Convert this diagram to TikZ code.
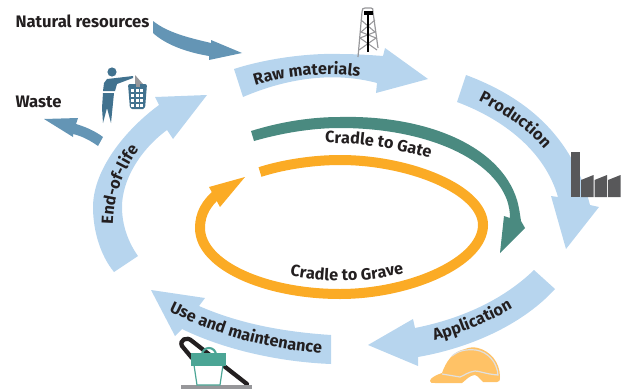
\documentclass[tikz,border=0pt]{standalone}
\usepackage{fontspec}
\setmainfont{Fira Sans}
\usetikzlibrary{decorations.text}

\definecolor{lightblue}{HTML}{B7D5EE}
\definecolor{steelblue}{HTML}{6495B5}
\definecolor{darkteal}{HTML}{4A8A80}
\definecolor{ringorange}{HTML}{FBAB25}
\definecolor{personblue}{HTML}{41728F}
\definecolor{helmetorange}{HTML}{FFC266}
\definecolor{factorygrey}{HTML}{58585A}
\definecolor{floorgrey}{HTML}{97979A}
\definecolor{inkblack}{HTML}{231F20}
\definecolor{bucketgreen}{HTML}{4BA595}

\newcommand{\labelfont}{\fontsize{12.2}{14}\bfseries\color{inkblack}}

\tikzset{
	every picture/.style={line width=0.75pt},
	blockblue/.style={fill=lightblue,draw=none},
	blocksteel/.style={fill=steelblue,draw=none},
	sidelabel/.style={anchor=base west,inner sep=0pt,font=\fontsize{12.5}{15}\bfseries,text=inkblack},
	curvelabel/.style={decorate,decoration={text along path,text={|\labelfont|#1},text align=center}}
}

\begin{document}
\begin{tikzpicture}[x=0.75pt,y=0.75pt,yscale=-1,xscale=1]
	\useasboundingbox (0,0) rectangle (621,389);

	%Side arrows
	\path [blocksteel] (153,21) .. controls (168,33) and (190,38) .. (211,43) -- (211,40) -- (242,53) -- (209,60) -- (209,56) .. controls (185,52) and (165,44) .. (153,33) -- cycle;
	\path [blocksteel] (103,137) .. controls (95,131) and (86,127) .. (76,124) -- (78,118) -- (44,119) -- (73,137) -- (73,134) .. controls (82,136) and (91,141) .. (98,146) -- cycle;

	%Big cycle arrows
	\path [blockblue] (234,69) .. controls (268,58) and (310,53) .. (340,54) .. controls (355,54) and (370,55) .. (383,56) -- (385,48) -- (428,79) -- (376,93) -- (377,83) .. controls (332,71) and (285,79) .. (243,97) -- cycle;
	\path [blockblue] (466,75) .. controls (525,97) and (572,135) .. (590,205) -- (599,207) -- (566,249) -- (551,196) -- (558,197) .. controls (545,152) and (505,120) .. (457,102) -- cycle;
	\path [blockblue] (534,270) .. controls (505,298) and (465,318) .. (415,328) -- (413,319) -- (368,345) -- (418,366) -- (418,357) .. controls (475,347) and (525,322) .. (555,289) -- cycle;
	\path [blockblue] (331,335) .. controls (285,332) and (240,324) .. (199,306) -- (205,298) -- (151,290) -- (175,336) -- (182,329) .. controls (225,350) and (280,362) .. (331,364) -- cycle;
	\path [blockblue] (114,272) .. controls (100,255) and (93,230) .. (93,207) .. controls (93,170) and (125,130) .. (159,105) -- (155,97) -- (207,95) -- (173,139) -- (167,130) .. controls (140,150) and (122,180) .. (122,207) .. controls (122,225) and (128,242) .. (138,256) -- cycle;

	%Cradle to Gate
	\path [fill=darkteal] (251,131) .. controls (280,122) and (310,117) .. (340,117) .. controls (425,115) and (500,145) .. (517,200) .. controls (519,207) and (520,214) .. (521,221) -- (525,228) -- (500,253) -- (504,216) -- (510,218) .. controls (510,212) and (509,206) .. (507,200) .. controls (490,155) and (420,128) .. (340,128) .. controls (312,128) and (282,133) .. (254,141) -- cycle;

	%Cradle to Grave
	\draw [ringorange,line width=7.5pt] (260,172) .. controls (285,164) and (315,160) .. (340,160) .. controls (410,160) and (483,190) .. (483,225) .. controls (483,262) and (410,294) .. (340,294) .. controls (265,294) and (200,265) .. (200,228) .. controls (200,213) and (207,203) .. (217,194);
	\path [fill=ringorange] (245,177) -- (209,187) -- (220,207) -- cycle;

	%Curved labels
	\path [curvelabel={Raw materials}] (250,87) .. controls (285,75) and (330,71) .. (365,78);
	\path [curvelabel={Production}] (475,99) .. controls (502,112) and (527,128) .. (547,152);
	\path [curvelabel={Application}] (430,342) .. controls (460,334) and (490,322) .. (517,306);
	\path [curvelabel={Use and maintenance}] (164,309) .. controls (215,335) and (270,350) .. (327,354);
	\path [curvelabel={End-of-life}] (113,226) .. controls (113,198) and (122,172) .. (140,148);
	\path [curvelabel={Cradle to Gate}] (323,143) .. controls (360,143) and (395,148) .. (432,159);
	\path [curvelabel={Cradle to Grave}] (287,275) .. controls (325,283) and (370,283) .. (407,272);

	%Side labels
	\node [sidelabel] (resources) at (15,27) {Natural resources};
	\node [sidelabel] (waste) at (15,107) {Waste};

	%Person and bin
	\fill [personblue] (112,72) circle [radius=4.6];
	\fill [personblue] (107,79) -- (116,78) -- (133,76) -- (133,78) -- (117,84) -- (115,91) -- (103,91) -- (104,83) -- cycle;
	\fill [personblue] (103,93) -- (114,93) -- (111,123) -- (107,108) -- (103,123) -- (102,108) -- cycle;
	\fill [floorgrey] (135,75) -- (143,84) -- (135,84) -- cycle;
	\fill [personblue,rounded corners=1.5pt] (128,84) -- (147,84) -- (145,109) -- (130,109) -- cycle;
	\foreach \binx in {131,135.5,140}
		\foreach \biny in {89,94,99,104}
			\fill [white] (\binx,\biny) rectangle +(3,3);
	\fill [floorgrey] (135.5,84) rectangle +(4,3);

	%Drilling rig
	\draw [floorgrey,line width=0.9pt] (358,57) -- (362,12) .. controls (362,9) and (363,8) .. (365,8) -- (371,8) .. controls (373,8) and (373,9) .. (373,12) -- (378,48);
	\draw [floorgrey,line width=0.8pt] (361,20) -- (375,32) -- (360,38) -- (377,50) (375,20) -- (361,32) -- (376,38) -- (359,50);
	\draw [black,line width=1.5pt] (368,12) -- (368,52);
	\fill [black] (364,10.5) rectangle (373,14.5);

	%Factory
	\fill [factorygrey] (571,152) rectangle (580,197);
	\foreach \shedx in {581,594.5,608}
		\fill [factorygrey] (\shedx,180) -- (\shedx+12.5,175) -- (\shedx+12.5,197) -- (\shedx,197) -- cycle;

	%Helmet
	\fill [helmetorange] (430,381) .. controls (430,378) and (436,375) .. (442,373) .. controls (446,362) and (452,352) .. (465,349) .. controls (470,347) and (474,347) .. (478,348) .. controls (490,351) and (500,362) .. (500,377) .. controls (500,381) and (499,382) .. (497,382) -- (483,382) .. controls (480,379) and (478,376) .. (475,375) .. controls (470,375) and (466,380) .. (462,383) -- (435,383) .. controls (432,383) and (430,383) .. (430,381) -- cycle;
	\draw [white!88!black,line width=0.9pt] (442,374) -- (460,377) .. controls (465,375) and (468,372) .. (475,371) .. controls (480,371) and (485,374) .. (498,375) .. controls (497,362) and (488,352) .. (476,350) .. controls (465,349) and (458,351) .. (452,356);

	%Vacuum cleaner
	\draw [inkblack,line width=3.2pt,line cap=round] (192,358) -- (182,346) .. controls (179,340) and (187,336) .. (192,341) -- (247,384);
	\fill [floorgrey] (181,385) rectangle (252,389);
	\draw [bucketgreen,line width=1.6pt] (209,355) circle [radius=7];
	\draw [bucketgreen,fill=white,line width=0.9pt] (194,365) -- (197,385) -- (220,385) -- (223,365) -- cycle;
	\fill [bucketgreen] (191,353) rectangle (226,366);
\end{tikzpicture}
\end{document}
